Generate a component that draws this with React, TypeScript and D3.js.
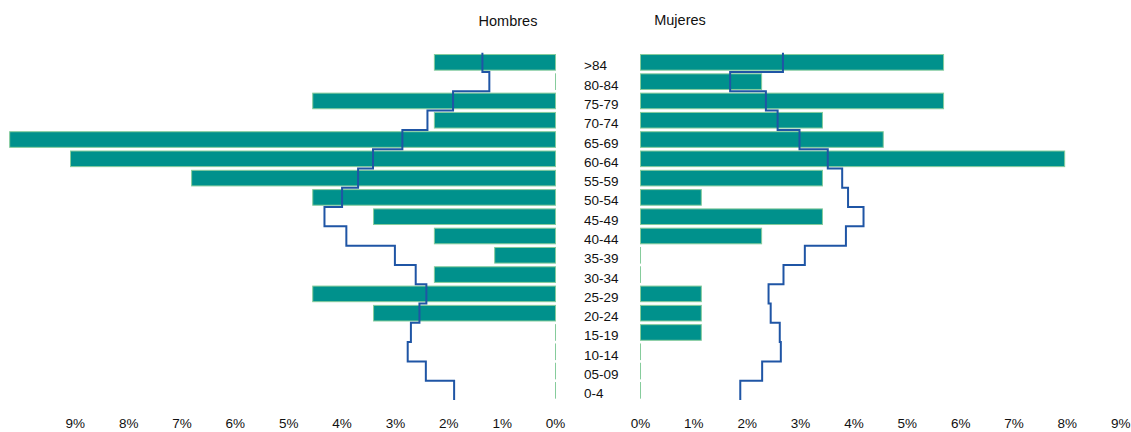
import React from "react";
import * as d3 from "d3";

const ages = [">84", "80-84", "75-79", "70-74", "65-69", "60-64", "55-59", "50-54", "45-49", "40-44", "35-39", "30-34", "25-29", "20-24", "15-19", "10-14", "05-09", "0-4"];
const menBars = [2.27, 0, 4.55, 2.27, 10.23, 9.09, 6.82, 4.55, 3.41, 2.27, 1.14, 2.27, 4.55, 3.41, 0, 0, 0, 0];
const womenBars = [5.68, 2.27, 5.68, 3.41, 4.55, 7.95, 3.41, 1.14, 3.41, 2.27, 0, 0, 1.14, 1.14, 1.14, 0, 0, 0];
const menLine = [1.37, 1.24, 1.92, 2.40, 2.87, 3.42, 3.70, 4.00, 4.33, 3.92, 3.01, 2.62, 2.42, 2.55, 2.71, 2.77, 2.43, 1.90];
const womenLine = [2.67, 1.68, 2.35, 2.57, 2.98, 3.51, 3.78, 3.89, 4.18, 3.85, 3.08, 2.68, 2.40, 2.44, 2.61, 2.63, 2.28, 1.87];
const ticks = [0, 1, 2, 3, 4, 5, 6, 7, 8, 9];
const titles = ["Hombres", "Mujeres"];

const W = 1131;
const H = 432;
const FONT = "Arial, 'Liberation Sans', sans-serif";
const BAR = "#00918c";
const BAR_EDGE = "#86cc9c";
const LINE = "#1f55a5";

export default function App() {
  const y = d3.scaleBand<string>().domain(ages).range([52.7, 400]).paddingInner(0.19).paddingOuter(0.095);
  const step = y.step();
  const top = 52.7;
  const xL = d3.scaleLinear().domain([0, 9]).range([555.5, 75.3]);
  const xR = d3.scaleLinear().domain([0, 9]).range([640.5, 1120.7]);

  const stepPath = (vals: number[], xs: d3.ScaleLinear<number, number>) => {
    const pts: [number, number][] = [];
    vals.forEach((v, i) => {
      pts.push([xs(v), top + i * step]);
      pts.push([xs(v), top + (i + 1) * step]);
    });
    return d3.line()(pts) || "";
  };

  return (
    <svg width={W} height={H} style={{ position: "absolute", left: 0, top: 0, background: "#fff" }} fontFamily={FONT}>
      {menBars.map((v, i) => {
        const x0 = xL(v);
        const x1 = xL(0);
        return (
          <rect key={"m" + i} x={x0} y={y(ages[i])!} width={Math.max(x1 - x0, 0.01)} height={y.bandwidth()}
            fill={BAR} stroke={BAR_EDGE} strokeWidth={1} />
        );
      })}
      {womenBars.map((v, i) => {
        const x0 = xR(0);
        const x1 = xR(v);
        return (
          <rect key={"w" + i} x={x0} y={y(ages[i])!} width={Math.max(x1 - x0, 0.01)} height={y.bandwidth()}
            fill={BAR} stroke={BAR_EDGE} strokeWidth={1} />
        );
      })}
      <path d={stepPath(menLine, xL)} fill="none" stroke={LINE} strokeWidth={2} />
      <path d={stepPath(womenLine, xR)} fill="none" stroke={LINE} strokeWidth={2} />
      {ages.map((a) => (
        <text key={a} x={584} y={y(a)! + y.bandwidth() / 2 + 8} fontSize={13.5} fill="#111">{a}</text>
      ))}
      {ticks.map((t) => (
        <text key={"tl" + t} x={xL(t)} y={428} fontSize={13.5} textAnchor="middle" fill="#111">{t + "%"}</text>
      ))}
      {ticks.map((t) => (
        <text key={"tr" + t} x={xR(t)} y={428} fontSize={13.5} textAnchor="middle" fill="#111">{t + "%"}</text>
      ))}
      <text x={508} y={26} fontSize={14.5} textAnchor="middle" fill="#111">{titles[0]}</text>
      <text x={680} y={24.5} fontSize={14.5} textAnchor="middle" fill="#111">{titles[1]}</text>
    </svg>
  );
}
